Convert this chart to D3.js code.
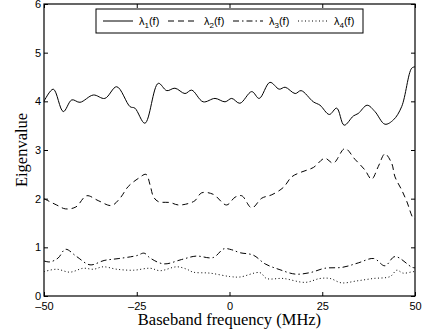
<!DOCTYPE html>
<html>
<head>
<meta charset="utf-8">
<script src="https://cdn.jsdelivr.net/npm/d3@7"></script>
<style>
  body { margin: 0; background: #fff; }
  svg { display: block; }
  .tick text { font-family: "Liberation Sans", Arial, sans-serif; font-size: 11px; }
</style>
</head>
<body>
<div id="chart"></div>
<script>
// frequency (MHz) / eigenvalue pairs
const lambda1F = [-50, -47.5, -44.8, -42.5, -40.3, -36.7, -33.6, -30.4, -26.8, -25.5, -22.8, -19.2, -16.9, -14.7, -12.0, -10.2, -7.1, -3.9, -1.2, 0.6, 2.8, 6.0, 8.0, 10.9, 13.4, 15.0, 17.7, 19.3, 22.6, 24.4, 26.9, 28.9, 30.9, 33.4, 34.7, 37.1, 39.2, 41.9, 44.2, 46.4, 49.1, 50];
const lambda1V = [4.00, 4.25, 3.79, 4.03, 3.98, 4.13, 4.06, 4.30, 3.89, 3.86, 3.55, 4.37, 4.22, 4.27, 4.16, 4.23, 3.99, 4.06, 3.99, 4.06, 3.96, 4.20, 4.06, 4.39, 4.25, 4.29, 4.16, 4.22, 3.99, 3.92, 3.73, 3.86, 3.51, 3.70, 3.75, 3.92, 3.79, 3.53, 3.62, 3.89, 4.68, 4.71];

const lambda2F = [-50, -46.6, -44.2, -41.4, -38.5, -35.4, -31.8, -29.5, -27.3, -24.5, -22.5, -21.4, -20.5, -19.2, -16.0, -13.8, -11.1, -9.3, -7.5, -4.4, -0.8, 1.5, 3.3, 6.0, 8.7, 11.4, 14.5, 16.8, 19.5, 22.6, 25.7, 28.0, 31.1, 33.8, 36.5, 38.3, 40.1, 41.9, 43.7, 44.6, 46.4, 47.8, 49.5, 50];
const lambda2V = [2.00, 1.87, 1.79, 1.83, 2.06, 1.96, 1.86, 2.01, 2.25, 2.42, 2.50, 2.28, 2.04, 1.94, 1.92, 1.87, 1.90, 1.96, 2.12, 2.09, 1.87, 2.03, 2.06, 1.81, 2.01, 2.08, 2.23, 2.45, 2.55, 2.64, 2.83, 2.73, 3.03, 2.81, 2.59, 2.40, 2.66, 2.92, 2.73, 2.45, 2.18, 1.94, 1.60, 1.58];

const lambda3F = [-50, -48.4, -46.2, -44.2, -41.2, -37.6, -33.8, -29.8, -25.0, -23.0, -21.4, -17.7, -12.9, -9.0, -4.4, -1.5, 0.6, 2.8, 6.4, 9.6, 13.6, 17.7, 21.7, 25.7, 30.5, 34.7, 38.9, 41.9, 44.6, 49.2, 50];
const lambda3V = [0.72, 0.70, 0.78, 0.96, 0.81, 0.64, 0.73, 0.77, 0.83, 0.88, 0.78, 0.66, 0.75, 0.82, 0.79, 0.97, 0.95, 0.89, 0.84, 0.66, 0.54, 0.45, 0.48, 0.57, 0.59, 0.68, 0.77, 0.62, 0.81, 0.59, 0.58];

const lambda4F = [-50, -46.6, -43.0, -39.4, -36.7, -34.0, -30.4, -25.9, -21.4, -18.7, -14.2, -11.5, -9.8, -5.3, 0.1, 2.8, 8.2, 10.0, 14.5, 20.4, 24.4, 27.1, 30.2, 34.3, 38.8, 43.3, 45.1, 46.8, 49.5, 50];
const lambda4V = [0.50, 0.55, 0.49, 0.57, 0.55, 0.60, 0.55, 0.53, 0.57, 0.52, 0.60, 0.55, 0.49, 0.47, 0.40, 0.39, 0.48, 0.36, 0.36, 0.28, 0.36, 0.36, 0.27, 0.31, 0.36, 0.40, 0.53, 0.47, 0.50, 0.50];

const xTicks = [-50, -25, 0, 25, 50];
const yTicks = [0, 1, 2, 3, 4, 5, 6];
const seriesNames = ['1', '2', '3', '4'];
const dashes = [null, '6,4', '6,3,1.5,3', '1,2.5'];

const width = 425, height = 334;
const margin = { top: 4, right: 10, bottom: 38, left: 44 };
const innerW = width - margin.left - margin.right;
const innerH = height - margin.top - margin.bottom;

const svg = d3.select('#chart')
  .append('svg')
    .attr('width', width)
    .attr('height', height);

const g = svg.append('g')
  .attr('transform', 'translate(' + margin.left + ',' + margin.top + ')');

const x = d3.scaleLinear().domain([-50, 50]).range([0, innerW]);
const y = d3.scaleLinear().domain([0, 6]).range([innerH, 0]);

// axes with inward ticks, mirrored on top and right
const styleAxis = (sel) => {
  sel.select('.domain').remove();
  sel.selectAll('.tick line').attr('stroke', '#000');
  sel.selectAll('.tick text').attr('fill', '#000');
};

g.append('g')
  .attr('transform', 'translate(0,' + innerH + ')')
  .call(d3.axisBottom(x).tickValues(xTicks).tickSizeInner(-4).tickSizeOuter(0).tickPadding(6)
    .tickFormat(d => d < 0 ? '\u2013' + Math.abs(d) : d))
  .call(styleAxis);

g.append('g')
  .call(d3.axisTop(x).tickValues(xTicks).tickSizeInner(-4).tickSizeOuter(0).tickFormat(''))
  .call(styleAxis);

g.append('g')
  .call(d3.axisLeft(y).tickValues(yTicks).tickSizeInner(-4).tickSizeOuter(0).tickPadding(3)
    .tickFormat(d3.format('d')))
  .call(styleAxis);

g.append('g')
  .attr('transform', 'translate(' + innerW + ',0)')
  .call(d3.axisRight(y).tickValues(yTicks).tickSizeInner(-4).tickSizeOuter(0).tickFormat(''))
  .call(styleAxis);

// frame
g.append('rect')
  .attr('width', innerW)
  .attr('height', innerH)
  .attr('fill', 'none')
  .attr('stroke', '#000')
  .attr('stroke-width', 1.2);

// lines
const line = d3.line()
  .x(d => x(d[0]))
  .y(d => y(d[1]))
  .curve(d3.curveCatmullRom.alpha(0.5));

const series = [
  d3.zip(lambda1F, lambda1V),
  d3.zip(lambda2F, lambda2V),
  d3.zip(lambda3F, lambda3V),
  d3.zip(lambda4F, lambda4V)
];

series.forEach((s, i) => {
  g.append('path')
    .datum(s)
    .attr('fill', 'none')
    .attr('stroke', '#000')
    .attr('stroke-width', 1)
    .attr('stroke-dasharray', dashes[i])
    .attr('d', line);
});

// axis labels
svg.append('text')
  .attr('x', margin.left + innerW / 2)
  .attr('y', 325)
  .attr('text-anchor', 'middle')
  .style('font-family', '"Liberation Serif", "Times New Roman", serif')
  .style('font-size', '16.5px')
  .text('Baseband frequency (MHz)');

svg.append('text')
  .attr('transform', 'translate(27,' + (margin.top + innerH / 2) + ') rotate(-90)')
  .attr('text-anchor', 'middle')
  .style('font-family', '"Liberation Serif", "Times New Roman", serif')
  .style('font-size', '16.5px')
  .text('Eigenvalue');

// legend
const legend = svg.append('g').attr('transform', 'translate(96,9)');
legend.append('rect')
  .attr('width', 267)
  .attr('height', 24)
  .attr('fill', '#fff')
  .attr('stroke', '#000')
  .attr('stroke-width', 1);

const entryX = [7, 72, 137, 202];
seriesNames.forEach((n, i) => {
  legend.append('line')
    .attr('x1', entryX[i])
    .attr('x2', entryX[i] + 30)
    .attr('y1', 12)
    .attr('y2', 12)
    .attr('stroke', '#000')
    .attr('stroke-width', 1)
    .attr('stroke-dasharray', dashes[i]);
  const t = legend.append('text')
    .attr('x', entryX[i] + 36)
    .attr('y', 16)
    .style('font-family', '"Liberation Sans", Arial, sans-serif')
    .style('font-size', '11px');
  t.append('tspan').text('\u03bb');
  t.append('tspan').attr('dy', 3).style('font-size', '8px').text(n);
  t.append('tspan').attr('dy', -3).text('(f)');
});
</script>
</body>
</html>
